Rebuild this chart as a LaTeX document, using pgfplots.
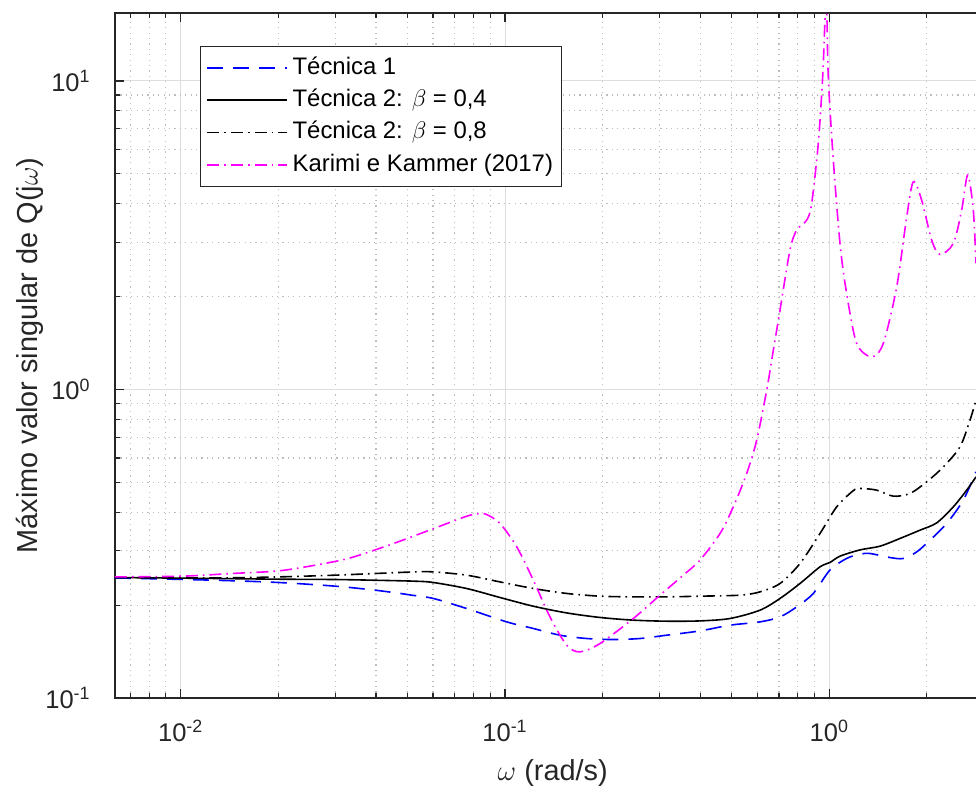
\documentclass[border=0pt]{standalone}
\usepackage{fontspec}
\setmainfont{Liberation Sans}
\usepackage{pgfplots}
\pgfplotsset{compat=1.18}
\definecolor{gridmaj}{gray}{0.87}
\definecolor{gridmin}{gray}{0.74}
\definecolor{axcol}{gray}{0.15}
\definecolor{tblue}{rgb}{0,0,1}
\definecolor{tmag}{rgb}{1,0,1}
\begin{document}
\begin{tikzpicture}
\useasboundingbox (-57.5bp,-48bp) rectangle (430.5bp,349bp);
\begin{loglogaxis}[
  at={(0,0)}, anchor=south west,
  scale only axis, width=437.75bp, height=342.5bp,
  xmin=0.00627, xmax=3.14159, ymin=0.1, ymax=16.6,
  log basis x=10, log basis y=10,
  xtick={0.01,0.1,1},
  xticklabels={10\textsuperscript{-2},10\textsuperscript{-1},10\textsuperscript{0}},
  ytick={0.1,1,10},
  yticklabels={10\textsuperscript{-1},10\textsuperscript{0},10\textsuperscript{1}},
  minor xtick={0.007,0.008,0.009,0.02,0.03,0.04,0.05,0.06,0.07,0.08,0.09,0.2,0.3,0.4,0.5,0.6,0.7,0.8,0.9,2,3},
  minor ytick={0.2,0.3,0.4,0.5,0.6,0.7,0.8,0.9,2,3,4,5,6,7,8,9},
  grid=both,
  major grid style={gridmaj, line width=0.5bp},
  minor grid style={gridmin, line width=0.6bp, dash pattern=on 0.6bp off 2.1bp},
  axis line style={axcol, line width=0.6bp},
  tick style={axcol, line width=0.6bp},
  tick align=inside, major tick length=4.5bp, minor tick length=2.3bp,
  xticklabel style={font=\fontsize{12.8}{15}\selectfont, inner sep=0pt, yshift=-11bp, text=axcol},
  yticklabel style={font=\fontsize{12.8}{15}\selectfont, inner sep=0pt, xshift=-12bp, text=axcol},
  xlabel={$\omega$ (rad/s)},
  ylabel={Máximo valor singular de Q(j$\omega$)},
  xlabel style={font=\fontsize{14.5}{17}\selectfont, at={(axis description cs:0.5,0)}, anchor=center, yshift=-37.5bp, text=axcol},
  ylabel style={font=\fontsize{14.5}{17}\selectfont, at={(axis description cs:-0.0971,0.5)}, anchor=center, text=axcol},
  legend cell align=left,
  legend image code/.code={\draw[#1] (0bp,0bp) -- (40bp,0bp);},
  legend style={at={(axis description cs:0.0971,0.9518)}, anchor=north west,
    draw=axcol, line width=0.6bp, fill=white,
    font=\fontsize{12}{14}\selectfont,
    inner xsep=3bp, inner ysep=2.5bp, row sep=0bp,
    nodes={inner sep=1.2bp, text height=10bp, text depth=3.8bp},
    /tikz/every odd column/.append style={column sep=1bp}},
]
\addplot[tblue, line width=0.8bp, dash pattern=on 8bp off 5bp, smooth] coordinates {
(0.00627,0.2450) (0.01276,0.2408) (0.0200,0.2368) (0.02991,0.2304) (0.03972,0.2236)
(0.04745,0.2182) (0.05157,0.2154) (0.06009,0.2102) (0.07617,0.1950) (0.1012,0.1765)
(0.1223,0.1680) (0.1478,0.1598) (0.1786,0.1559) (0.2158,0.1547) (0.2608,0.1559)
(0.3152,0.1598) (0.3992,0.1650) (0.4941,0.1722) (0.6113,0.1765) (0.7047,0.1832)
(0.7934,0.1974) (0.8927,0.2182) (1.005,0.2600) (1.131,0.2833) (1.244,0.2925)
(1.335,0.2940) (1.539,0.2853) (1.691,0.2833) (1.860,0.2975) (2.044,0.3247)
(2.301,0.3679) (2.589,0.4377) (2.834,0.5406)
};
\addlegendentry{Técnica 1}
\addplot[black, line width=0.8bp, smooth] coordinates {
(0.00627,0.2458) (0.01276,0.2440) (0.0200,0.2427) (0.02991,0.2421) (0.03972,0.2408)
(0.0528,0.2391) (0.06009,0.2368) (0.07617,0.2264) (0.09652,0.2117) (0.1223,0.1984)
(0.1550,0.1887) (0.1964,0.1824) (0.2487,0.1788) (0.3152,0.1774) (0.3992,0.1778)
(0.4941,0.1810) (0.6113,0.1926) (0.7047,0.2102) (0.8121,0.2350) (0.9361,0.2661)
(1.005,0.2750) (1.079,0.2882) (1.244,0.3020) (1.433,0.3105) (1.652,0.3289)
(1.904,0.3499) (2.144,0.3695) (2.412,0.4164) (2.653,0.4717) (2.834,0.5208)
};
\addlegendentry{Técnica 2: $\beta$ = 0,4}
\addplot[black, line width=0.8bp, dash pattern=on 6bp off 2.5bp on 0.8bp off 2.5bp, smooth] coordinates {
(0.00627,0.2463) (0.01276,0.2450) (0.0200,0.2469) (0.02991,0.2501) (0.03972,0.2532)
(0.0528,0.2563) (0.06009,0.2563) (0.07617,0.2501) (0.09652,0.2378) (0.1223,0.2264)
(0.1550,0.2182) (0.1964,0.2138) (0.2487,0.2127) (0.3152,0.2127) (0.3992,0.2138)
(0.5304,0.2154) (0.6113,0.2208) (0.7047,0.2350) (0.8121,0.2729) (0.9361,0.3413)
(1.054,0.4164) (1.186,0.4700) (1.244,0.4777) (1.400,0.4717) (1.575,0.4510)
(1.774,0.4602) (1.997,0.5018) (2.247,0.5611) (2.529,0.6516) (2.716,0.7952)
(2.834,0.9232)
};
\addlegendentry{Técnica 2: $\beta$ = 0,8}
\addplot[tmag, line width=0.8bp, dash pattern=on 6bp off 2.5bp on 0.8bp off 2.5bp, smooth] coordinates {
(0.00627,0.2469) (0.01007,0.2482) (0.01436,0.2532) (0.0200,0.2582) (0.02595,0.2694)
(0.03287,0.2833) (0.04167,0.3071) (0.04745,0.3224) (0.06009,0.3537) (0.07617,0.3884)
(0.08378,0.3963) (0.08782,0.3933) (0.09652,0.3679) (0.1087,0.3089) (0.1223,0.2408)
(0.1376,0.1832) (0.1550,0.1483) (0.1703,0.1411) (0.1964,0.1502) (0.2487,0.1810)
(0.3006,0.2154) (0.3546,0.2501) (0.3992,0.2797) (0.4603,0.3413) (0.5058,0.4164)
(0.5563,0.5342) (0.5973,0.6849) (0.6412,0.9947) (0.6722,1.341) (0.7047,1.807)
(0.7563,2.828) (0.7934,3.284) (0.8518,3.538) (0.8824,4.008) (0.9249,6.273)
(0.9541,10.31) (0.9699,15.74) (0.9800,19.0) (0.9929,10.31) (1.029,5.537)
(1.079,2.973) (1.131,2.048) (1.215,1.410) (1.351,1.276) (1.467,1.410)
(1.614,2.150) (1.733,3.626) (1.816,4.710) (1.927,4.108) (2.069,3.048)
(2.194,2.739) (2.412,2.973) (2.560,3.813) (2.672,4.951) (2.780,3.813)
(2.834,2.561)
};
\addlegendentry{Karimi e Kammer (2017)}
\end{loglogaxis}
\end{tikzpicture}
\end{document}
